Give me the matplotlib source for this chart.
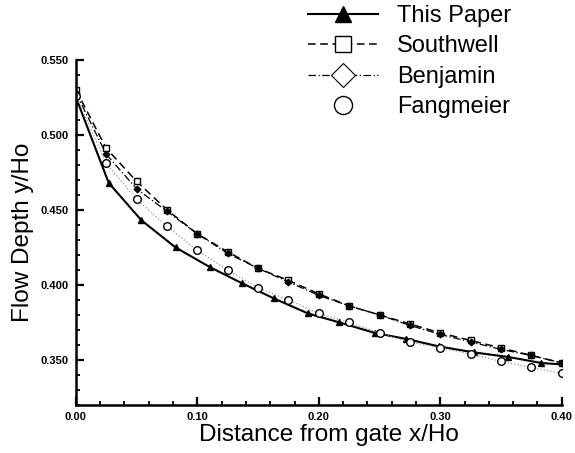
import matplotlib
import matplotlib.pyplot as plt
from matplotlib.ticker import MultipleLocator, FormatStrFormatter

matplotlib.use('Agg')

plt.rcParams['font.family'] = ['Liberation Sans', 'DejaVu Sans']

# distance from gate x/Ho (common grid for the reference solutions)
x_ref = [0.0, 0.025, 0.05, 0.075, 0.10, 0.125, 0.15, 0.175, 0.20,
         0.225, 0.25, 0.275, 0.30, 0.325, 0.35, 0.375, 0.40]
southwell = [0.530, 0.491, 0.469, 0.450, 0.434, 0.422, 0.411, 0.403, 0.394,
             0.386, 0.380, 0.374, 0.368, 0.363, 0.358, 0.353, 0.348]
benjamin = [0.528, 0.487, 0.464, 0.449, 0.434, 0.421, 0.411, 0.402, 0.393,
            0.386, 0.380, 0.373, 0.367, 0.362, 0.357, 0.353, 0.348]
fangmeier = [0.526, 0.481, 0.457, 0.439, 0.423, 0.410, 0.398, 0.390, 0.381,
             0.375, 0.368, 0.362, 0.358, 0.354, 0.349, 0.345, 0.341]

# this paper (own computation grid)
x_paper = [0.0, 0.027, 0.054, 0.082, 0.110, 0.137, 0.163, 0.191, 0.217,
           0.246, 0.272, 0.299, 0.328, 0.356, 0.383, 0.40]
this_paper = [0.525, 0.468, 0.443, 0.425, 0.412, 0.401, 0.391, 0.381, 0.375,
              0.368, 0.364, 0.359, 0.355, 0.352, 0.348, 0.347]
paper_markers = list(range(1, 15))

fig = plt.figure(figsize=(5.75, 4.53), dpi=100)
ax = fig.add_axes([0.132, 0.106, 0.845, 0.762])

ax.plot(x_paper, this_paper, color='black', lw=1.5, marker='^', ms=4,
        markevery=paper_markers, label='This Paper')
ax.plot(x_ref, southwell, color='black', lw=1.1, ls=(0, (5, 3)), marker='s',
        ms=4, mfc='white', mew=1.0, label='Southwell')
ax.plot(x_ref, benjamin, color='black', lw=0.9, ls=(0, (6, 2, 1, 2)), marker='D',
        ms=3.5, mfc='black', mew=0.8, label='Benjamin')
ax.plot(x_ref, fangmeier, color='gray', lw=0.8, ls=(0, (1, 2)))
ax.plot(x_ref, fangmeier, color='black', ls='none', marker='o', ms=5.5,
        mfc='white', mew=1.0, label='Fangmeier')

ax.set_xlim(0, 0.40)
ax.set_ylim(0.32, 0.55)
ax.xaxis.set_major_locator(MultipleLocator(0.1))
ax.xaxis.set_minor_locator(MultipleLocator(0.02))
ax.yaxis.set_major_locator(MultipleLocator(0.05))
ax.yaxis.set_minor_locator(MultipleLocator(0.01))
ax.xaxis.set_major_formatter(FormatStrFormatter('%.2f'))
ax.yaxis.set_major_formatter(FormatStrFormatter('%.3f'))

for side in ['top', 'right']:
    ax.spines[side].set_visible(False)
for side in ['left', 'bottom']:
    ax.spines[side].set_linewidth(1.8)

ax.tick_params(which='major', direction='in', length=6, width=1.6,
               labelsize=8, pad=5)
ax.tick_params(which='minor', direction='in', length=3, width=1.3)
for lbl in ax.get_xticklabels() + ax.get_yticklabels():
    lbl.set_fontweight('bold')

ax.set_xlabel('Distance from gate x/Ho', fontsize=17.5, labelpad=1)
ax.xaxis.set_label_coords(0.52, -0.055)
ax.xaxis.label.set_va('top')
ax.set_ylabel('Flow Depth y/Ho', fontsize=17.5, labelpad=5)

leg = fig.legend(loc='upper left', bbox_to_anchor=(0.53, 0.997), frameon=False,
                 fontsize=17, handlelength=2.95, handletextpad=0.8,
                 labelspacing=0.36, borderaxespad=0.0, borderpad=0.15)
sizes = [12, 11, 12, 13]
for h, s in zip(leg.legend_handles, sizes):
    h.set_markersize(s)
    h.set_markerfacecolor('white')
leg.legend_handles[0].set_markerfacecolor('black')

fig.savefig('out.png', dpi=100)
plt.close(fig)
